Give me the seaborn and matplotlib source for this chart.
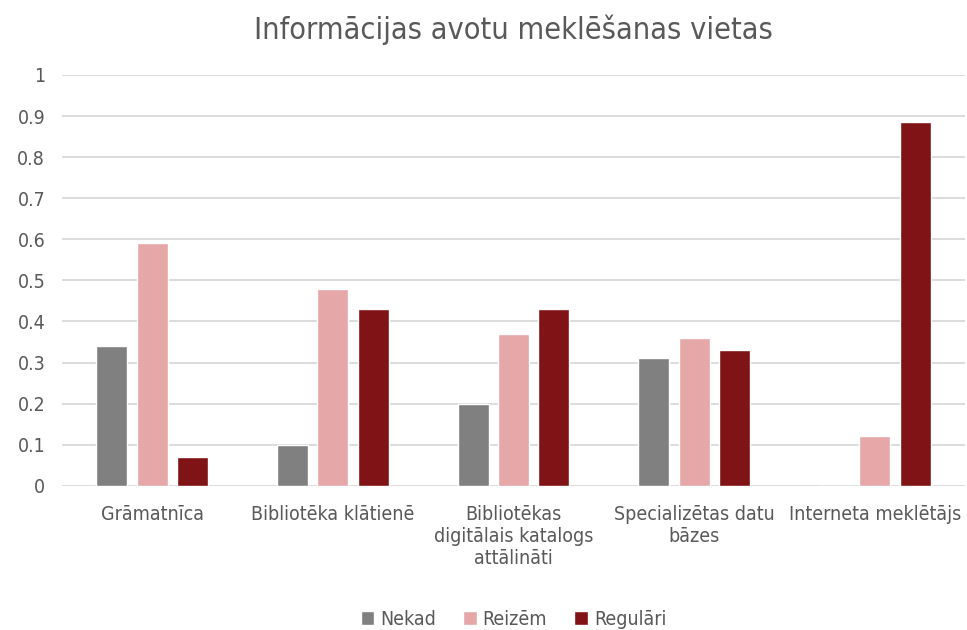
import pandas as pd
import matplotlib.pyplot as plt
import matplotlib.ticker as mticker
import seaborn as sns

### Data

categories = ['Grāmatnīca', 'Bibliotēka klātienē',
              'Bibliotēkas\ndigitālais katalogs\nattālināti',
              'Specializētas datu\nbāzes', 'Interneta meklētājs']
series = ['Nekad', 'Reizēm', 'Regulāri']
nekad = [0.34, 0.10, 0.20, 0.31, 0.0]
reizem = [0.59, 0.48, 0.37, 0.36, 0.12]
regulari = [0.07, 0.43, 0.43, 0.33, 0.885]
colors = ['#808080', '#E5A7A7', '#7F1315']

df = pd.DataFrame({'vieta': categories * 3,
                   'biezums': [s for s in series for _ in categories],
                   'vertiba': nekad + reizem + regulari})

sns.set_style('white')
plt.rcParams['font.family'] = ['Liberation Sans Narrow', 'DejaVu Sans']
plt.rcParams['font.stretch'] = 'condensed'
text_col = '#595959'

fig, ax = plt.subplots(figsize=(9.67, 6.3), dpi=100)
fig.subplots_adjust(left=0.064, right=0.998, top=0.881, bottom=0.229)

sns.barplot(data=df, x='vieta', y='vertiba', hue='biezums',
            palette=colors, saturation=1, width=0.67, gap=0.235, ax=ax)

ax.set_ylim(0, 1)
ax.set_yticks([i / 10 for i in range(11)])
ax.yaxis.set_major_formatter(mticker.FuncFormatter(lambda v, p: f'{v:g}'))
ax.grid(axis='y', color='#D9D9D9', linewidth=1.3)
ax.set_axisbelow(True)
sns.despine(left=True, bottom=True)
ax.tick_params(axis='both', length=0, labelsize=14, colors=text_col)
ax.tick_params(axis='x', pad=14)
ax.tick_params(axis='y', pad=12)
ax.set_xlabel('')
ax.set_ylabel('')
ax.set_title('Informācijas avotu meklēšanas vietas', fontsize=22,
             color=text_col, pad=26)

ax.legend(loc='upper center', bbox_to_anchor=(0.5, -0.26), ncol=3,
          frameon=False, fontsize=14, labelcolor=text_col,
          handlelength=0.7, handleheight=0.7, handletextpad=0.3,
          columnspacing=1.4)

plt.savefig('out.png', dpi=100)
